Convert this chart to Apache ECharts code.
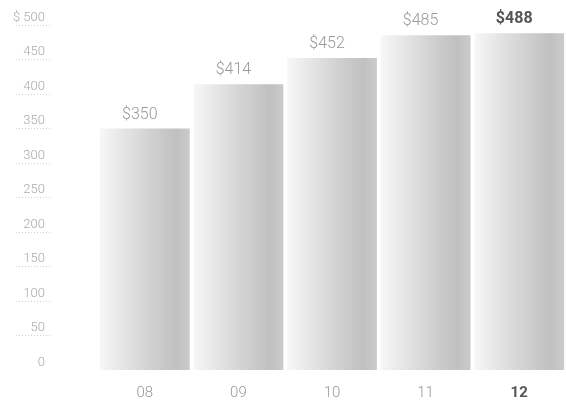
<!DOCTYPE html>
<html>
<head>
<meta charset="utf-8">
<script src="https://cdn.jsdelivr.net/npm/echarts@6/dist/echarts.min.js"></script>
<style>html,body{margin:0;padding:0;background:#fff}#c{width:566px;height:406px}</style>
</head>
<body>
<div id="c"></div>
<script>
const categories = ['08', '09', '10', '11', '12'];
const values = [350, 414, 452, 485, 488];
const yTicks = [0, 50, 100, 150, 200, 250, 300, 350, 400, 450, 500];
const yUnderlined = [50, 100, 150, 200, 250, 300, 350, 400, 450, 500];

const chart = echarts.init(document.getElementById('c'));
const FONT = 'Roboto';
const lastIdx = categories.length - 1;

chart.setOption({
  animation: false,
  backgroundColor: '#fff',
  grid: { left: 98, right: -2, top: 25, bottom: 36 },
  xAxis: {
    type: 'category',
    data: categories,
    axisLine: { show: false },
    axisTick: { show: false },
    axisLabel: {
      margin: 16,
      fontFamily: FONT,
      fontSize: 15,
      fontWeight: 300,
      color: '#999',
      formatter: (v, i) => i === lastIdx ? '{b|' + v + '}' : v,
      rich: { b: { fontFamily: FONT, fontSize: 15, fontWeight: 'bold', color: '#555' } }
    }
  },
  yAxis: {
    type: 'value',
    min: 0, max: 500, interval: 50,
    offset: 48,
    splitLine: { show: false },
    axisLine: { show: false },
    axisTick: {
      show: true,
      inside: false,
      length: 36,
      customValues: yUnderlined,
      lineStyle: { color: '#cfcfcf', type: [1, 2], width: 1 }
    },
    axisLabel: {
      customValues: yTicks,
      margin: 5,
      verticalAlign: 'bottom',
      padding: [0, 0, 1, 0],
      fontFamily: FONT,
      fontSize: 13,
      fontWeight: 300,
      color: '#aaa',
      formatter: v => v === 500 ? '$ 500' : String(v)
    }
  },
  series: [{
    type: 'bar',
    barCategoryGap: '4%',
    data: values.map((v, i) => ({
      value: v,
      label: i === lastIdx ? { fontWeight: 'bold', color: '#555' } : undefined
    })),
    itemStyle: {
      color: new echarts.graphic.LinearGradient(0, 0, 1, 0, [
        { offset: 0, color: '#f7f7f7' },
        { offset: 0.55, color: '#d2d2d2' },
        { offset: 0.85, color: '#c0c0c0' },
        { offset: 1, color: '#cbcbcb' }
      ])
    },
    label: {
      show: true,
      position: 'top',
      distance: 6,
      offset: [-5, 0],
      fontFamily: FONT,
      fontSize: 16,
      fontWeight: 300,
      color: '#999',
      formatter: p => '$' + p.value
    }
  }]
});
</script>
</body>
</html>
